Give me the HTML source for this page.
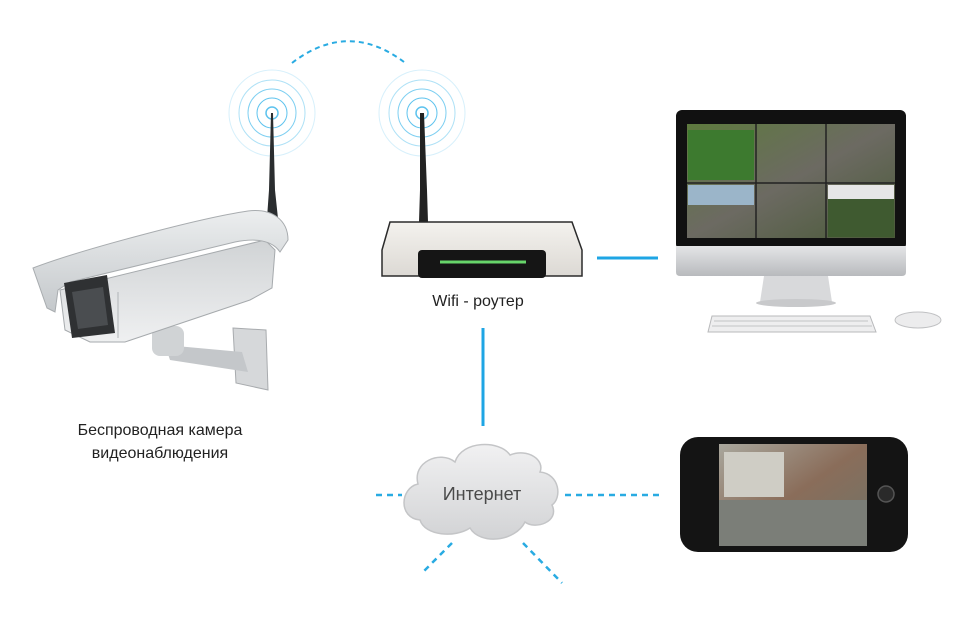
<!DOCTYPE html>
<html><head><meta charset="utf-8"><style>
html,body{margin:0;padding:0;background:#fff;}
svg{display:block}
text{font-family:"Liberation Sans","DejaVu Sans",sans-serif;}
</style></head><body>
<svg width="974" height="636" viewBox="0 0 974 636" xmlns="http://www.w3.org/2000/svg">
<defs>
<linearGradient id="hood" x1="0" y1="0" x2="0" y2="1"><stop offset="0" stop-color="#eceeef"/><stop offset="1" stop-color="#c4c8cb"/></linearGradient>
<linearGradient id="body" x1="0" y1="0" x2="0" y2="1"><stop offset="0" stop-color="#d0d3d5"/><stop offset="1" stop-color="#eff0f1"/></linearGradient>
<linearGradient id="cloud" x1="0" y1="0" x2="0" y2="1"><stop offset="0" stop-color="#f1f1f2"/><stop offset="1" stop-color="#d2d3d5"/></linearGradient>
<linearGradient id="rt" x1="0" y1="0" x2="0" y2="1"><stop offset="0" stop-color="#f4f2ee"/><stop offset="1" stop-color="#dcd9d4"/></linearGradient>
<linearGradient id="chin" x1="0" y1="0" x2="0" y2="1"><stop offset="0" stop-color="#e4e5e7"/><stop offset="1" stop-color="#b8babd"/></linearGradient>
<linearGradient id="scr" x1="0" y1="0" x2="1" y2="1"><stop offset="0" stop-color="#5e7a3e"/><stop offset="0.5" stop-color="#6c6a62"/><stop offset="1" stop-color="#4a5a38"/></linearGradient>
<linearGradient id="ph" x1="0" y1="0" x2="1" y2="1"><stop offset="0" stop-color="#a9a79d"/><stop offset="0.5" stop-color="#8a6d5a"/><stop offset="1" stop-color="#6f7468"/></linearGradient>
</defs>

<g fill="none" stroke="#5ec3ee" stroke-width="1">
<circle cx="272" cy="113" r="6" stroke-width="1.5"/><circle cx="272" cy="113" r="15"/><circle cx="272" cy="113" r="24" opacity=".8"/><circle cx="272" cy="113" r="33" opacity=".5"/><circle cx="272" cy="113" r="43" opacity=".25"/>
<circle cx="422" cy="113" r="6" stroke-width="1.5"/><circle cx="422" cy="113" r="15"/><circle cx="422" cy="113" r="24" opacity=".8"/><circle cx="422" cy="113" r="33" opacity=".5"/><circle cx="422" cy="113" r="43" opacity=".25"/>
</g>
<path d="M292,63 Q348,20 404,62" fill="none" stroke="#29abe2" stroke-width="2" stroke-dasharray="5,4"/>

<line x1="597" y1="258" x2="658" y2="258" stroke="#1ea5e4" stroke-width="3"/>
<line x1="483" y1="328" x2="483" y2="426" stroke="#1ea5e4" stroke-width="3"/>
<g stroke="#29abe2" stroke-width="2.5" stroke-dasharray="6,5">
<line x1="376" y1="495" x2="402" y2="495"/>
<line x1="565" y1="495" x2="660" y2="495"/>
<line x1="452" y1="543" x2="424" y2="571"/>
<line x1="523" y1="543" x2="562" y2="583"/>
</g>

<path d="M420,520 C398,518 400,488 418,484 C412,462 440,450 455,462 C462,440 500,440 510,455 C528,448 545,460 540,472 C560,474 562,498 552,505 C560,522 535,530 525,522 C515,542 480,545 470,528 C455,538 425,536 420,520 Z" fill="url(#cloud)" stroke="#c4c5c7" stroke-width="1.5"/>
<text x="482" y="500" font-size="18" fill="#4a4a4a" text-anchor="middle">Интернет</text>

<!-- camera antenna -->
<path d="M271,113 L273,113 L275,190 L279,228 L266,232 L269,190 Z" fill="#2a2d2f"/>
<!-- bracket -->
<path d="M233,328 L266,330 L268,390 L236,383 Z" fill="#d6d8da" stroke="#a8abae"/>
<path d="M165,345 L242,352 L248,372 L170,360 Z" fill="#c4c7ca"/>
<rect x="152" y="326" width="32" height="30" rx="8" fill="#d0d3d5"/>
<!-- camera body -->
<path d="M60,290 L265,240 L275,250 L272,288 L250,300 L125,342 L90,342 L65,330 Z" fill="url(#body)" stroke="#a6aaad"/>
<line x1="118" y1="338" x2="118" y2="292" stroke="#b0b4b7"/>
<!-- hood -->
<path d="M33,268 C80,250 200,218 248,211 C272,208 288,220 288,240 L280,252 C272,240 255,238 235,242 L70,282 L58,290 L55,312 L47,308 Z" fill="url(#hood)" stroke="#a8acaf"/>
<path d="M64,283 L107,275 L115,333 L72,338 Z" fill="#2f3133"/>
<path d="M72,292 L103,287 L108,325 L78,329 Z" fill="#4a4d50"/>
<text x="160" y="435" font-size="16" fill="#222" text-anchor="middle">Беспроводная камера</text>
<text x="160" y="458" font-size="16" fill="#222" text-anchor="middle">видеонаблюдения</text>

<!-- router -->
<path d="M420,113 L424,113 L427,190 L428,222 L419,222 L420,190 Z" fill="#222"/>
<path d="M390,222 L572,222 L582,250 L582,276 L382,276 L382,250 Z" fill="url(#rt)" stroke="#2b2b2b" stroke-width="1.5"/>
<rect x="418" y="250" width="128" height="28" rx="4" fill="#151515"/>
<line x1="440" y1="262" x2="526" y2="262" stroke="#67d56a" stroke-width="3"/>
<text x="478" y="306" font-size="16" fill="#222" text-anchor="middle">Wifi - роутер</text>

<!-- monitor -->
<rect x="676" y="110" width="230" height="140" rx="6" fill="#111"/>
<path d="M676,246 L906,246 L906,272 Q906,276 902,276 L680,276 Q676,276 676,272 Z" fill="url(#chin)"/>
<rect x="687" y="124" width="208" height="114" fill="url(#scr)"/>
<g stroke="#222" stroke-width="1.5"><line x1="756" y1="124" x2="756" y2="238"/><line x1="826" y1="124" x2="826" y2="238"/><line x1="687" y1="183" x2="895" y2="183"/></g>
<rect x="688" y="130" width="66" height="50" fill="#3d7a2f"/>
<rect x="828" y="185" width="66" height="52" fill="#3f5a30"/>
<rect x="828" y="185" width="66" height="14" fill="#e6e6e6"/>
<rect x="688" y="185" width="66" height="20" fill="#9bb5c9"/>
<path d="M764,276 L828,276 L832,302 L760,302 Z" fill="#d8d9db"/>
<ellipse cx="796" cy="303" rx="40" ry="4" fill="#c8c9cb"/>
<path d="M712,316 L870,316 L876,332 L708,332 Z" fill="#eeeeef" stroke="#b8b9bb"/>
<g stroke="#c3c4c6" stroke-width="1"><line x1="714" y1="321" x2="868" y2="321"/><line x1="712" y1="326" x2="872" y2="326"/></g>
<ellipse cx="918" cy="320" rx="23" ry="8" fill="#ececed" stroke="#c0c1c3"/>

<!-- phone -->
<rect x="680" y="437" width="228" height="115" rx="18" fill="#141414"/>
<rect x="719" y="444" width="148" height="102" fill="url(#ph)"/>
<rect x="719" y="500" width="148" height="46" fill="#7b7e78"/>
<rect x="724" y="452" width="60" height="45" fill="#cfcdc5"/>
<circle cx="886" cy="494" r="8" fill="#2a2a2a" stroke="#555" stroke-width="1.5"/>
</svg>
</body></html>
